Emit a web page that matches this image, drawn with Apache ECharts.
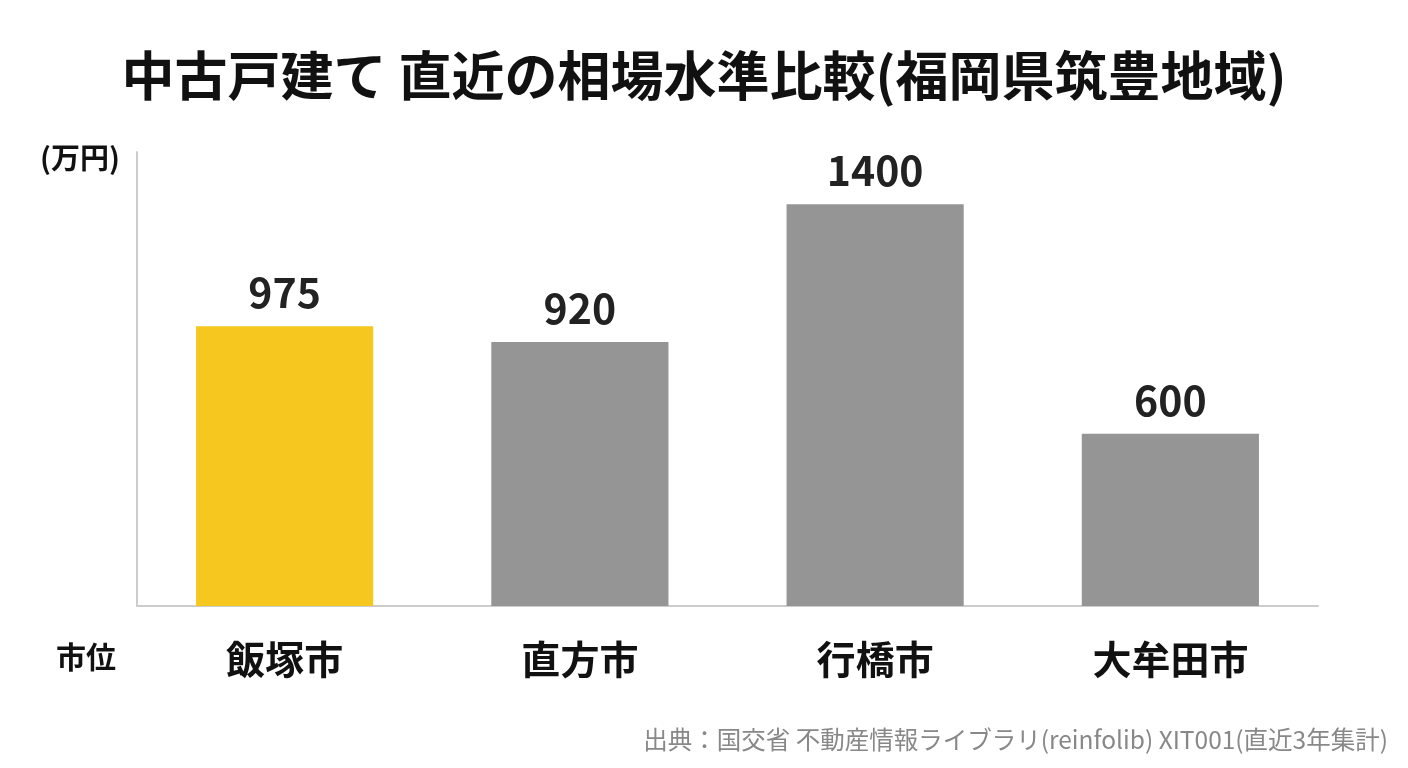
<!DOCTYPE html>
<html>
<head>
<meta charset="utf-8">
<script src="https://cdn.jsdelivr.net/npm/echarts@6/dist/echarts.min.js"></script>
<style>
  html, body { margin: 0; padding: 0; background: #fff; }
  #chart { width: 1408px; height: 768px; }
</style>
</head>
<body>
<div id="chart"></div>
<script>
const cities = ["飯塚市", "直方市", "行橋市", "大牟田市"];
const prices = [975, 920, 1400, 600];
const barColors = ["#f5c71f", "#959595", "#959595", "#959595"];

const font = '"Noto Sans CJK JP", "Noto Sans", sans-serif';

const chart = echarts.init(document.getElementById("chart"));

chart.setOption({
  backgroundColor: "#ffffff",
  animation: false,
  title: {
    text: "中古戸建て 直近の相場水準比較(福岡県筑豊地域)",
    left: "center",
    top: 44,
    textStyle: { fontFamily: font, fontSize: 53, fontWeight: "bold", color: "#111" }
  },
  grid: { left: 137, right: 90, top: 152, bottom: 162 },
  xAxis: {
    type: "category",
    data: cities,
    axisLine: { lineStyle: { color: "#cccccc", width: 2 } },
    axisTick: { show: false },
    axisLabel: {
      margin: 34,
      fontFamily: font,
      fontSize: 39,
      fontWeight: "bold",
      color: "#111"
    }
  },
  yAxis: {
    type: "value",
    min: 0,
    max: 1582,
    axisLine: { show: true, lineStyle: { color: "#cccccc", width: 2 } },
    axisTick: { show: false },
    axisLabel: { show: false },
    splitLine: { show: false }
  },
  series: [{
    type: "bar",
    barWidth: "60%",
    data: prices.map((v, i) => ({ value: v, itemStyle: { color: barColors[i] } })),
    label: {
      show: true,
      position: "top",
      distance: 13,
      fontFamily: font,
      fontSize: 41,
      fontWeight: "bold",
      color: "#222"
    }
  }],
  graphic: [
    {
      type: "text",
      left: 40,
      top: 143,
      style: { text: "(万円)", fontFamily: font, fontSize: 29, fontWeight: "bold", fill: "#111" }
    },
    {
      type: "text",
      left: 56,
      top: 642,
      style: { text: "市位", fontFamily: font, fontSize: 30, fontWeight: "bold", fill: "#111" }
    },
    {
      type: "text",
      right: 20,
      top: 727,
      style: {
        text: "出典：国交省 不動産情報ライブラリ(reinfolib) XIT001(直近3年集計)",
        fontFamily: font,
        fontSize: 24.5,
        fill: "#888"
      }
    }
  ]
});
</script>
</body>
</html>
